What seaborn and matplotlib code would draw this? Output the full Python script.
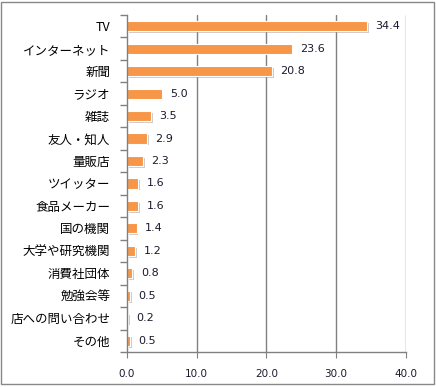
import matplotlib
matplotlib.use('Agg')
import matplotlib.pyplot as plt
import matplotlib.patheffects as pe
from matplotlib.patches import Rectangle
import pandas as pd
import seaborn as sns

# データ
categories = ['TV', 'インターネット', '新聞', 'ラジオ', '雑誌', '友人・知人', '量販店',
              'ツイッター', '食品メーカー', '国の機関', '大学や研究機関', '消費社団体',
              '勉強会等', '店への問い合わせ', 'その他']
values = [34.4, 23.6, 20.8, 5.0, 3.5, 2.9, 2.3, 1.6, 1.6, 1.4, 1.2, 0.8, 0.5, 0.2, 0.5]
x_ticks = [0, 10, 20, 30, 40]

df = pd.DataFrame({'項目': categories, '割合': values})

sns.set_style('white')
plt.rcParams['font.family'] = ['Noto Sans CJK JP', 'DejaVu Sans']

fig = plt.figure(figsize=(4.36, 3.87), dpi=100)
ax = fig.add_axes([0.291, 0.0904, 0.640, 0.871])

sns.barplot(data=df, x='割合', y='項目', orient='h', color='#F79646', saturation=1,
            width=0.45, edgecolor='white', linewidth=0.8, ax=ax)

for p in ax.patches:
    p.set_path_effects([pe.SimplePatchShadow(offset=(1.2, -1.2), shadow_rgbFace='#999999', alpha=0.5),
                        pe.Normal()])

for i, v in enumerate(values):
    ax.annotate(f'{v:.1f}', xy=(v, i), xytext=(6, 0), textcoords='offset points',
                va='center', ha='left', fontsize=8, color='#1a1a2e', family='DejaVu Sans')

ax.set_xlim(0, 40)
ax.set_ylim(len(categories) - 0.5, -0.5)
ax.set_xticks(x_ticks)
ax.set_xticklabels([f'{t:.1f}' for t in x_ticks], fontsize=7.5, color='#1a1a2e', family='DejaVu Sans')
ax.set_yticks(range(len(categories)))
ax.set_yticklabels(categories, fontsize=9, color='black')
ax.set_xlabel('')
ax.set_ylabel('')

# 区切りの目盛り
ax.set_yticks([i - 0.5 for i in range(len(categories) + 1)], minor=True)
ax.tick_params(axis='y', which='major', length=0, pad=12)
ax.tick_params(axis='y', which='minor', length=5, color='#808080', width=1, direction='out', left=True)
ax.tick_params(axis='x', length=4, color='#808080', direction='out', bottom=True, pad=8)

for x in x_ticks[1:]:
    ax.axvline(x, color='#808080', linewidth=1, zorder=0)

for s in ['top', 'right']:
    ax.spines[s].set_visible(False)
for s in ['left', 'bottom']:
    ax.spines[s].set_color('#808080')
    ax.spines[s].set_linewidth(1)

# 外枠
fig.patches.append(Rectangle((0.003, 0.008), 0.992, 0.988, transform=fig.transFigure,
                             fill=False, edgecolor='#888888', linewidth=1))

fig.savefig('out.png', dpi=100)
